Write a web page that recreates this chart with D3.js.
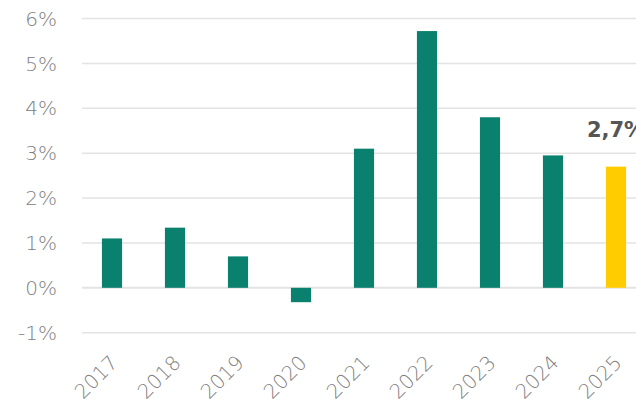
<!DOCTYPE html>
<html>
<head>
<meta charset="utf-8">
<script src="https://cdn.jsdelivr.net/npm/d3@7"></script>
<style>
  body { margin: 0; background: #fff; }
  svg { display: block; font-family: "DejaVu Sans", "Open Sans", sans-serif; }
</style>
</head>
<body>
<div id="chart"></div>
<script>
var years = ["2017", "2018", "2019", "2020", "2021", "2022", "2023", "2024", "2025"];
var growth = [1.1, 1.34, 0.7, -0.32, 3.1, 5.72, 3.8, 2.95, 2.7];
var yTicks = [-1, 0, 1, 2, 3, 4, 5, 6];
var highlightYear = "2025";
var highlightLabel = "2,7%";

var chart = {
    width: 636,
    height: 410,
    gridLeft: 82
};

var svg = d3.select("#chart")
    .append("svg")
    .attr("width", chart.width)
    .attr("height", chart.height);

var y = d3.scaleLinear()
    .domain([-1, 6])
    .range([332.7, 18.5]);

var x = d3.scaleBand()
    .domain(years)
    .range([80.5, 647.5])
    .paddingInner(0.68)
    .paddingOuter(0.34);

/* 网格线 */
svg.append("g")
    .selectAll("line")
    .data(yTicks)
    .enter()
    .append("line")
    .attr("x1", chart.gridLeft)
    .attr("x2", chart.width)
    .attr("y1", function(d){ return y(d); })
    .attr("y2", function(d){ return y(d); })
    .style("stroke", "#e3e3e3")
    .style("stroke-width", function(d){ return d == 0 ? 2 : 1.5; });

/* y 轴文字 */
svg.append("g")
    .selectAll("text")
    .data(yTicks)
    .enter()
    .append("text")
    .attr("x", 57)
    .attr("y", function(d){ return y(d); })
    .attr("dy", "0.36em")
    .attr("text-anchor", "end")
    .text(function(d){ return d + "%"; })
    .style("fill", "#808080")
    .style("font-weight", 200)
    .style("font-size", "20px");

/* 柱子 */
svg.append("g")
    .selectAll("rect")
    .data(growth)
    .enter()
    .append("rect")
    .attr("x", function(d, i){ return x(years[i]); })
    .attr("width", x.bandwidth())
    .attr("y", function(d){ return y(Math.max(0, d)); })
    .attr("height", function(d){ return Math.abs(y(d) - y(0)); })
    .style("fill", function(d, i){
        return years[i] == highlightYear ? "#ffcc00" : "#0a806e";
    });

/* 高亮标签 */
var hi = years.indexOf(highlightYear);
svg.append("text")
    .attr("x", x(highlightYear) + x.bandwidth() / 2)
    .attr("y", y(growth[hi]) - 30)
    .attr("text-anchor", "middle")
    .text(highlightLabel)
    .style("fill", "#555")
    .style("font-weight", 700)
    .style("font-size", "21px");

/* x 轴文字 */
svg.append("g")
    .selectAll("text")
    .data(years)
    .enter()
    .append("text")
    .attr("transform", function(d){
        return "translate(" + (x(d) + x.bandwidth() / 2 - 3) + ",354) rotate(-45)";
    })
    .attr("text-anchor", "end")
    .attr("dy", "0.7em")
    .text(function(d){ return d; })
    .style("fill", "#808080")
    .style("font-weight", 200)
    .style("font-size", "20px");
</script>
</body>
</html>
